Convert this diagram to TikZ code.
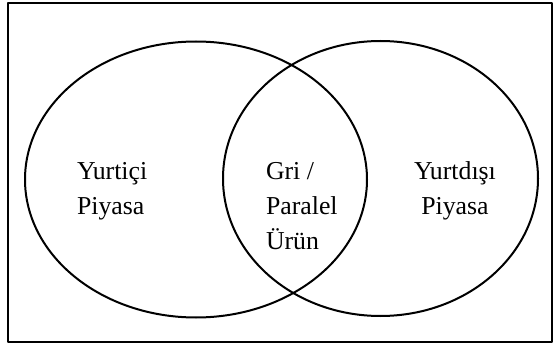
\documentclass[tikz,border=0pt]{standalone}
\usepackage{fontspec}
\setmainfont{Liberation Serif}
\usetikzlibrary{positioning}
\tikzset{lbl/.style={inner sep=0pt, align=left, font=\fontsize{25.8}{35}\selectfont}}
\begin{document}
\begin{tikzpicture}[x=1pt, y=-1pt, line join=round, line width=2pt]
        \def\ra{171} \def\rb{138} \def\rc{157.5} \def\rd{137.5}
\useasboundingbox (0,0) rectangle (555,345);
\coordinate (L) at (196,179.5);
\coordinate (R) at (380.5,178.5);
\coordinate (P) at (7.5,3);
\coordinate (Q) at (552,342);
        \draw (P) rectangle (Q);
        \draw (L) ellipse [x radius=\ra, y radius=\rb];
        \draw (R) ellipse [x radius=\rc, y radius=\rd];
% base anchor sits on the last line
\node[lbl, anchor=base west] (yurtici) at (76,214) {Yurtiçi\\Piyasa};
\node[lbl, anchor=base west] (gri) at (265,249) {Gri /\\Paralel\\Ürün};
\node[lbl, align=center, anchor=base] (yurtdisi) at (455,214) {Yurtdışı\\Piyasa};
    \end{tikzpicture}
\end{document}
